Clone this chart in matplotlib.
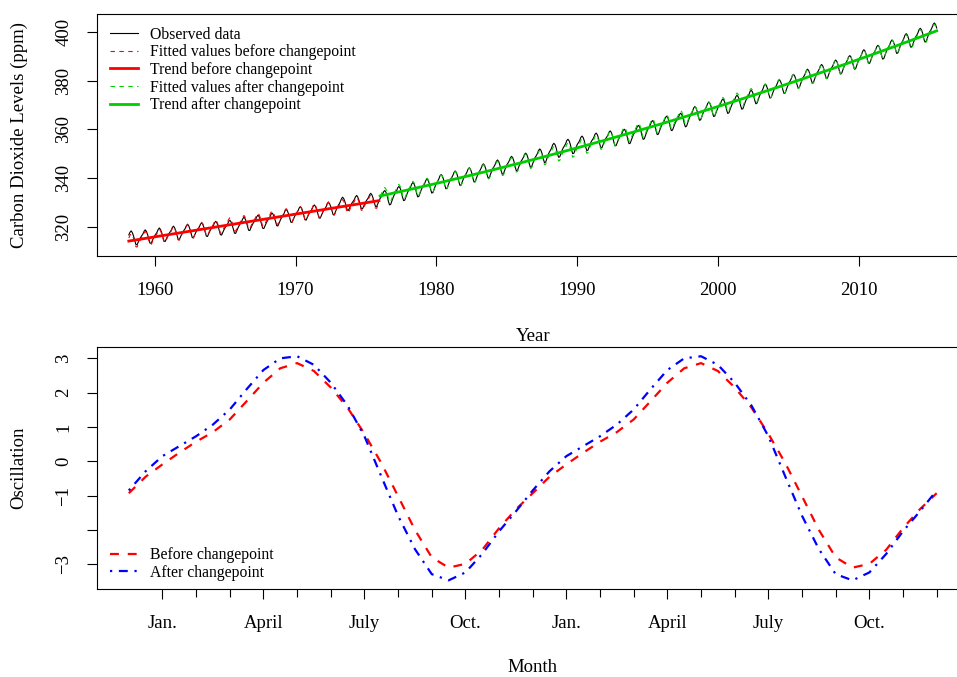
import numpy as np
from matplotlib import pyplot as plt

plt.rcParams['font.family'] = ['Liberation Serif', 'DejaVu Serif']

# Mauna Loa annual means (ppm), 1958-2015
years = list(range(1958, 2016))
co2_annual = [315.60, 316.10, 316.91, 317.64, 318.45, 318.99, 319.62, 320.04,
              321.38, 322.16, 323.04, 324.62, 325.68, 326.32, 327.45, 329.68,
              330.18, 331.11, 332.04, 333.83, 335.40, 336.84, 338.75, 340.11,
              341.45, 343.05, 344.65, 346.12, 347.42, 349.19, 351.57, 353.12,
              354.39, 355.61, 356.45, 357.10, 358.83, 360.82, 362.61, 363.73,
              366.70, 368.38, 369.55, 371.14, 373.28, 375.80, 377.52, 379.80,
              381.90, 383.79, 385.60, 387.43, 389.90, 391.65, 393.85, 396.52,
              398.65, 400.83]
first_month = 3   # record starts March 1958
last_month = 7    # and ends July 2015
changepoint = 1976.0

# seasonal oscillation, every half month starting in December
season_before = [-0.93, -0.45, -0.09, 0.25, 0.57, 0.85, 1.22, 1.75, 2.29, 2.71,
                 2.86, 2.63, 2.15, 1.56, 0.80, -0.05, -1.02, -2.00, -2.80, -3.10,
                 -2.99, -2.58, -1.95, -1.40]
season_after = [-0.85, -0.29, 0.15, 0.44, 0.73, 1.07, 1.51, 2.10, 2.66, 3.00,
                3.06, 2.81, 2.29, 1.62, 0.73, -0.44, -1.59, -2.56, -3.29, -3.47,
                -3.24, -2.70, -2.04, -1.46]

year_ticks = [1960, 1970, 1980, 1990, 2000, 2010]
co2_ticks = [320, 340, 360, 380, 400]
month_ticks = list(range(1, 25))
label_months = [1, 4, 7, 10, 13, 16, 19, 22]
month_labels = ['Jan.', 'April', 'July', 'Oct.', 'Jan.', 'April', 'July', 'Oct.']
osc_ticks = [-3, -2, -1, 0, 1, 2, 3]
osc_labels = ['\u22123', '', '\u22121', '0', '1', '2', '3']

RED = '#FF0000'
GREEN = '#00CD00'
BLUE = '#0000FF'


def build_series():
    t = []
    season = []
    for y in years:
        for k in range(1, 13):
            if y == years[0] and k < first_month:
                continue
            if y == years[-1] and k > last_month:
                continue
            tt = y + (k - 1) / 12
            t.append(tt)
            pattern = season_before if tt < changepoint else season_after
            season.append(pattern[(2 * k) % 24])
    t = np.array(t)
    season = np.array(season)
    baseline = np.interp(t, np.array(years) + 5.5 / 12, co2_annual)
    return t, season, baseline + season


def plot_top(ax):
    t, season, observed = build_series()
    before = t < changepoint
    after = ~before
    trend_b = np.polyval(np.polyfit(t[before], observed[before] - season[before], 1), t[before])
    trend_a = np.polyval(np.polyfit(t[after], observed[after] - season[after], 2), t[after])

    ax.plot(t, observed, color='black', lw=0.8, label='Observed data')
    ax.plot(t[before], trend_b + season[before], color=RED, lw=0.8,
            ls=(0, (4, 4)), label='Fitted values before changepoint')
    ax.plot(t[before], trend_b, color=RED, lw=2, label='Trend before changepoint')
    ax.plot(t[after], trend_a + season[after], color=GREEN, lw=0.8,
            ls=(0, (4, 4)), label='Fitted values after changepoint')
    ax.plot(t[after], trend_a, color=GREEN, lw=2, label='Trend after changepoint')

    ax.margins(x=0.04, y=0.04)
    ax.set_xticks(year_ticks)
    ax.set_yticks(co2_ticks)
    ax.legend(loc='upper left', bbox_to_anchor=(0.015, 0.947), frameon=False,
              fontsize=11.3, handlelength=1.8, handletextpad=0.78,
              labelspacing=0.1, borderpad=0, borderaxespad=0)


def plot_bottom(ax):
    x = np.arange(49) * 0.5
    before = season_before * 2 + [season_before[0]]
    after = season_after * 2 + [season_after[0]]
    ax.plot(x, before, color=RED, lw=1.6, ls=(0, (4, 4)), label='Before changepoint')
    ax.plot(x, after, color=BLUE, lw=1.6, ls=(0, (1, 3, 4, 3)), label='After changepoint')

    ax.margins(x=0.04, y=0.04)
    ax.set_xticks(month_ticks, minor=True)
    ax.set_xticks(label_months)
    ax.set_xticklabels(month_labels)
    ax.tick_params(axis='x', which='minor', length=5.5, width=0.8)
    ax.set_yticks(osc_ticks)
    ax.set_yticklabels(osc_labels)
    ax.legend(loc='lower left', bbox_to_anchor=(0.015, 0.036), frameon=False,
              fontsize=11.3, handlelength=1.8, handletextpad=0.78,
              labelspacing=0.1, borderpad=0, borderaxespad=0)


def style(ax):
    for s in ax.spines.values():
        s.set_linewidth(0.8)
    ax.tick_params(axis='both', which='major', length=7.5, width=0.8,
                   labelsize=13.5, pad=11)
    ax.tick_params(axis='y', labelrotation=90, pad=10)
    for lab in ax.get_yticklabels():
        lab.set_va('center')


def main():
    fig = plt.figure(figsize=(9.57, 6.77), dpi=100)
    W, H = 957, 677
    left, right = 96.5, 969
    ax1 = fig.add_axes([left / W, 1 - 256 / H, (right - left) / W, (256 - 14) / H])
    ax2 = fig.add_axes([left / W, 1 - 589.3 / H, (right - left) / W, (589.3 - 347.3) / H])

    plot_top(ax1)
    plot_bottom(ax2)
    style(ax1)
    style(ax2)

    fig.text(19 / W, 1 - 135 / H, 'Carbon Dioxide Levels (ppm)', rotation=90,
             ha='center', va='center', fontsize=13.5)
    fig.text(532.7 / W, 1 - 336 / H, 'Year', ha='center', va='center', fontsize=13.5)
    fig.text(19 / W, 1 - 468 / H, 'Oscillation', rotation=90,
             ha='center', va='center', fontsize=13.5)
    fig.text(532.7 / W, 1 - 668 / H, 'Month', ha='center', va='center', fontsize=13.5)

    fig.savefig('out.png', dpi=100)


if __name__ == '__main__':
    main()
